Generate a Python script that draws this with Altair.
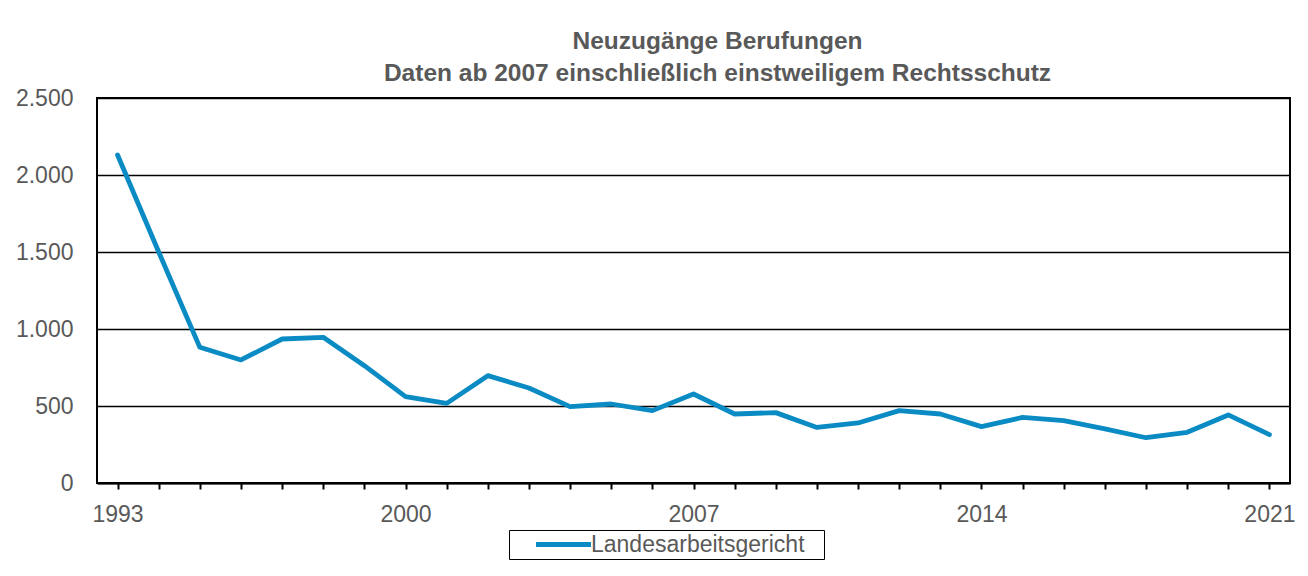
import altair as alt
import pandas as pd

years = list(range(1993, 2022))
values = [2130, 1500, 881, 799, 935, 946, 762, 561, 517, 697, 617, 496, 513, 470,
          578, 448, 457, 361, 390, 470, 448, 366, 426, 405, 351, 294, 329, 442, 314]
series_name = "Landesarbeitsgericht"
title_lines = ["Neuzugänge Berufungen", "Daten ab 2007 einschließlich einstweiligem Rechtsschutz"]
y_ticks = [0, 500, 1000, 1500, 2000, 2500]

df = pd.DataFrame({"Jahr": years, "Wert": values, "Reihe": [series_name] * len(years)})

FONT = "Liberation Sans, Arial, sans-serif"
GRAY = "#595959"
BLUE = "#0a8bc4"

line = alt.Chart(df).mark_line(strokeWidth=4.8, strokeCap="round", strokeJoin="round").encode(
    x=alt.X("Jahr:Q",
            scale=alt.Scale(domain=[1992.5, 2021.5], nice=False, zero=False),
            axis=alt.Axis(values=years, title=None, grid=False,
                          labelExpr="(datum.value - 1993) % 7 == 0 ? format(datum.value, 'd') : ''",
                          tickSize=6, tickColor="black", tickWidth=2,
                          domainColor="black", domainWidth=2,
                          labelPadding=14, labelFontSize=23, labelColor=GRAY, labelFont=FONT)),
    y=alt.Y("Wert:Q",
            scale=alt.Scale(domain=[0, 2500], nice=False),
            axis=alt.Axis(values=y_ticks, title=None, grid=True, gridColor="black", gridWidth=1.5,
                          ticks=False, domain=False,
                          labelExpr="replace(format(datum.value, ','), ',', '.')",
                          labelPadding=24, labelFontSize=23, labelColor=GRAY, labelFont=FONT)),
    color=alt.Color("Reihe:N",
                    scale=alt.Scale(range=[BLUE]),
                    legend=alt.Legend(title=None, orient="none", legendX=412, legendY=432,
                                      symbolType="M-2.75,0H2.75", symbolSize=400, symbolStrokeWidth=5,
                                      symbolOffset=40, labelOffset=15, labelLimit=400,
                                      labelExpr="datum.label + '\u2800'",
                                      labelFontSize=23, labelColor=GRAY, labelFont=FONT,
                                      strokeColor="black", padding=2)),
)

chart = line.properties(
    width=1193, height=385,
    title=alt.TitleParams(text=title_lines, fontSize=24.5, font=FONT, fontWeight="bold",
                          color=GRAY, anchor="middle", dx=24, lineHeight=32, offset=1),
    padding={"left": 89, "top": 90, "right": 10, "bottom": 90},
    autosize=alt.AutoSizeParams(type="none"),
).configure(background="white").configure_view(stroke="black", strokeWidth=2)

chart.save("out.html", embed_options={"renderer": "svg", "actions": False})
